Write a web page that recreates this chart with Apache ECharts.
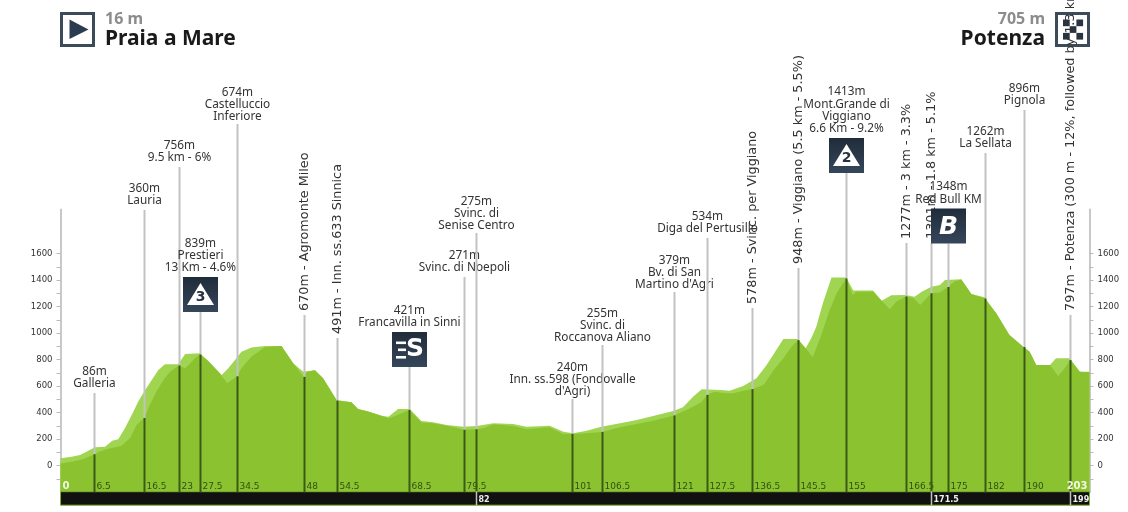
<!DOCTYPE html>
<html>
<head>
<meta charset="utf-8">
<style>html,body{margin:0;padding:0;background:#fff}#chart{width:1128px;height:512px}</style>
<script src="https://cdn.jsdelivr.net/npm/echarts@6/dist/echarts.min.js"></script>
</head>
<body>
<div id="chart"></div>
<script>
// Road surface as seen from the front edge: km and elevation in metres
const frontKm = [0,2.2,4.4,6.7,7.6,9.2,10.8,12,13.7,15,16.5,17.6,18.9,20.3,21.6,23.3,24.6,25.6,26.5,27.5,29.1,31.4,32.9,34.8,35.7,37.7,40.3,43.6,45.9,48,48.6,50.2,51.8,54.5,57.4,58.7,60.7,63.3,64.7,66,67.3,68.8,71.2,73.5,76.2,79.7,82,83.4,85.4,89.3,91.9,96.5,99.2,101,103.8,106.8,110.4,113.7,116.9,121,122.8,124.8,126.5,127.5,129,131,132.7,134.7,136.5,138.7,140.7,142.6,144.2,145.5,147,148.4,150,151.5,153.1,155,156.3,157,160.3,162,163.6,164.9,166.8,168.3,169.6,171.8,173.5,175,176.4,177.7,179.7,182.3,184.6,187.2,190,191.2,192.5,195.2,196.8,198.1,199.2,201.1,203];
const frontElev = [16,30,48,86,106,126,139,151,207,307,360,458,558,647,709,756,735,773,810,839,792,697,622,674,735,823,894,903,773,670,709,720,660,491,478,428,408,377,358,375,395,421,325,320,302,271,275,282,312,300,275,290,239,240,245,255,290,315,340,379,408,445,483,534,558,546,546,566,578,609,722,810,898,948,886,818,974,1150,1301,1413,1288,1313,1313,1245,1180,1238,1277,1263,1213,1301,1306,1348,1389,1405,1296,1262,1150,986,896,860,760,760,677,735,797,709,705];

// Raised back edge of the road ribbon
const backKm = [0,2.2,3.85,5.5,6.8,8.8,10.2,11.4,12.7,14.4,15.3,16.7,18,19.3,20.6,23.2,24.6,27.5,29.1,31.8,33.1,34.7,35.7,37.7,40.3,43.6,45.9,47.9,50.2,51.8,54.5,57.4,58.7,60.7,63.3,64.7,66.6,68.9,71.2,73.5,76.2,79.5,82.1,85.4,89.3,91.9,96.5,99.2,101.1,103.8,106.7,110.4,113.7,116.9,120.9,122.8,124.8,126.5,130.1,132,134.7,137.3,139.3,142.6,145.5,147,148.1,149.1,150.4,152.1,155,156.4,160.3,162,163.9,166.7,168.5,169.9,171.8,173.5,174.5,177.7,179.7,182.3,184.6,187.2,189.9,191.2,192.5,195.2,196.4,199.1,201.1,203];
const backElev = [56,68,81,113,139,143,189,199,282,408,483,571,647,722,765,765,843,848,792,685,735,810,860,891,903,903,773,709,720,660,496,478,428,408,377,370,428,428,337,327,307,294,300,320,315,294,302,257,245,264,294,320,345,375,413,441,521,577,571,566,601,660,760,956,956,886,961,1049,1226,1419,1419,1321,1321,1245,1286,1288,1275,1313,1351,1364,1402,1407,1296,1271,1150,986,898,860,760,760,810,810,709,709];

// Points of interest along the route: position, printed distance, elevation, caption
const markerKm = [6.7,16.5,23.3,27.5,34.8,48,54.6,68.8,79.7,82,101,106.8,121,127.6,136.5,145.5,155,166.8,171.8,175,182.3,190,199.2];
const markerKmText = ["6.5","16.5","23","27.5","34.5","48","54.5","68.5","79.5","82","101","106.5","121","127.5","136.5","145.5","155","166.5","171.5","175","182","190","199"];
const markerElev = [86,360,756,839,674,670,491,421,271,275,240,255,379,534,578,948,1413,1277,1301,1348,1262,896,797];
const markerText = [
  "86m\nGalleria","360m\nLauria","756m\n9.5 km - 6%","839m\nPrestieri\n13 Km - 4.6%",
  "674m\nCastelluccio\nInferiore","670m - Agromonte Mileo","491m - Inn. ss.633 Sinnica",
  "421m\nFrancavilla in Sinni","271m\nSvinc. di Noepoli","275m\nSvinc. di\nSenise Centro",
  "240m\nInn. ss.598 (Fondovalle\nd'Agri)","255m\nSvinc. di\nRoccanova Aliano",
  "379m\nBv. di San\nMartino d'Agri","534m\nDiga del Pertusillo","578m - Svinc. per Viggiano",
  "948m - Viggiano (5.5 km - 5.5%)","1413m\nMont.Grande di\nViggiano\n6.6 Km - 9.2%",
  "1277m - 3 km - 3.3%","1301m - 1.8 km - 5.1%","1348m\nRed Bull KM","1262m\nLa Sellata",
  "896m\nPignola","797m - Potenza (300 m - 12%, followed by 1.3 km - 5.6%)"
];
const sidewaysMarkers = ["48","54.5","136.5","145.5","166.5","171.5","199"];  // captions that read bottom to top
const beltMarkers = ["82","171.5","199"];                                     // distances printed inside the black belt
const climbBadges = {"27.5":"3","155":"2"};
const sprintMarker = "68.5";
const bonusMarker = "175";
const routeStartKm = 0;
const routeEndKm = 203;

// Page layout, separate from the data above
const poleTopPx = [393,210,167,312,124,315,338,367,277,233,399,345,292,238,308,268,173,243,243,243.5,153,110,315];
const badgeSize = 35;
const labelFont = '11.8px "Noto Sans"';
const sideFont = '12.8px "DejaVu Sans"';
const kmFont = '9px "DejaVu Sans"';
const axisTicks = [-100,0,100,200,300,400,500,600,700,800,900,1000,1100,1200,1300,1400,1500,1600];
const axisLabels = [0,200,400,600,800,1000,1200,1400,1600];

const GRID = {left:60.5,right:38.5,top:209.5,bottom:19.8};
const FRONT = '#8bc230', BACK = '#a0d552', POLE = '#c2c2c2', STEM = '#3b5a17', TXT = '#333';
const NAVY = {type:'linear',x:0,y:0,x2:0,y2:1,colorStops:[{offset:0,color:'#1f2c3a'},{offset:1,color:'#36465a'}]};
const HEAD_FONT = '"Noto Sans"';

function badge(cx, bottom, key) {
  const L = cx - badgeSize/2, T = bottom - badgeSize;
  const kids = [{type:'rect',shape:{x:L,y:T,width:badgeSize,height:badgeSize},style:{fill:NAVY}}];
  if (climbBadges[key]) {
    kids.push({type:'polygon',shape:{points:[[L+17.5,T+6],[L+31,T+28],[L+4,T+28]]},style:{fill:'#fff'}});
    kids.push({type:'text',x:L+17.5,y:T+20.5,style:{text:climbBadges[key],font:'bold 14px "DejaVu Sans"',fill:'#26323f',align:'center',verticalAlign:'middle'}});
  } else if (key === sprintMarker) {
    [9.5,16.5,24].forEach(function (dy, i) {
      kids.push({type:'rect',shape:{x:L+4+(i===1?2:0),y:T+dy,width:i===1?8:10,height:2.6},style:{fill:'#fff'}});
    });
    kids.push({type:'text',x:L+23,y:T+17.5,style:{text:'S',font:'bold 25px "DejaVu Sans"',fill:'#fff',align:'center',verticalAlign:'middle'}});
  } else if (key === bonusMarker) {
    kids.push({type:'text',x:L+17.5,y:T+18.5,style:{text:'B',font:'italic bold 25px "DejaVu Sans"',fill:'#fff',align:'center',verticalAlign:'middle'}});
  }
  return kids;
}

function renderMarker(params, api) {
  const i = params.dataIndex;
  const key = markerKmText[i];
  const top = api.coord([markerKm[i], markerElev[i]]);
  const base = api.coord([markerKm[i], -200]);
  const x = Math.round(top[0]) + 0.5;
  const poleTop = poleTopPx[i];
  const hasBadge = climbBadges[key] || key === sprintMarker || key === bonusMarker;
  const kids = [
    {type:'line',shape:{x1:x,y1:poleTop,x2:x,y2:top[1]},style:{stroke:POLE,lineWidth:2}},
    {type:'line',shape:{x1:x,y1:top[1],x2:x,y2:base[1]},style:{stroke:STEM,lineWidth:2}}
  ];
  if (hasBadge) kids.push.apply(kids, badge(x, poleTop, key));
  if (sidewaysMarkers.indexOf(key) >= 0) {
    kids.push({type:'text',x:x,y:poleTop-4,rotation:Math.PI/2,
      style:{text:markerText[i],font:sideFont,fill:TXT,align:'left',verticalAlign:'middle'}});
  } else {
    const lines = markerText[i].split('\n').length;
    const gap = hasBadge ? badgeSize + 3 : (lines === 3 ? 1 : 3);
    kids.push({type:'text',x:x,y:poleTop-gap,
      style:{text:markerText[i],font:labelFont,fill:TXT,align:'center',verticalAlign:'bottom',lineHeight:12.3}});
  }
  if (beltMarkers.indexOf(key) >= 0) {
    kids.push({type:'line',shape:{x1:x,y1:base[1]-1,x2:x,y2:base[1]+13},style:{stroke:POLE,lineWidth:1.5}});
    kids.push({type:'text',x:x+2,y:base[1]+7.5,style:{text:key,font:'bold 8px "DejaVu Sans"',fill:'#eee',align:'left',verticalAlign:'middle'}});
  } else {
    kids.push({type:'text',x:x+2,y:base[1]-5.5,style:{text:key,font:kmFont,fill:'#2f5212',align:'left',verticalAlign:'middle'}});
  }
  return {type:'group',children:kids};
}

// Black distance belt under the profile
function renderBelt(params, api) {
  const a = api.coord([routeStartKm, -200]);
  const b = api.coord([routeEndKm, -200]);
  return {type:'rect',shape:{x:a[0],y:a[1]-0.5,width:b[0]-a[0],height:13.5},style:{fill:'#111',stroke:'#7fb12e',lineWidth:1}};
}

// Start and finish distances, printed over the marker stems
function renderRouteEnds(params, api) {
  const a = api.coord([routeStartKm, -200]);
  const b = api.coord([routeEndKm, -200]);
  return {type:'group',children:[
    {type:'text',x:a[0]+2,y:a[1]-5.5,style:{text:String(routeStartKm),font:'bold 10px "DejaVu Sans"',fill:'#f2f7e0',align:'left',verticalAlign:'middle'}},
    {type:'text',x:b[0]-2,y:a[1]-5.5,style:{text:String(routeEndKm),font:'bold 10px "DejaVu Sans"',fill:'#f2f7e0',align:'right',verticalAlign:'middle'}}
  ]};
}

function elevationAxis(position) {
  return {
    type:'value',position:position,min:-200,max:1933,
    axisLine:{show:true,onZero:false,lineStyle:{color:'#c8c8c8',width:2}},
    axisTick:{show:true,length:4,customValues:axisTicks,lineStyle:{color:'#bbb',width:1}},
    axisLabel:{customValues:axisLabels,margin:8,color:TXT,fontFamily:'DejaVu Sans',fontSize:8.5,formatter:function (v) { return String(v); }},
    splitLine:{show:false}
  };
}

function zip(xs, ys) { return xs.map(function (x, i) { return [x, ys[i]]; }); }

// Finish flag: a 3 by 3 chequer inside the framed square
const flagCells = [[0,0],[2,0],[1,1],[0,2],[2,2]];

const chart = echarts.init(document.getElementById('chart'), null, {renderer:'canvas'});
chart.setOption({
  animation:false,
  backgroundColor:'#fff',
  grid:GRID,
  xAxis:{type:'value',min:routeStartKm,max:routeEndKm,show:false},
  yAxis:[elevationAxis('left'),elevationAxis('right')],
  series:[
    {type:'line',data:zip(backKm,backElev),symbol:'none',silent:true,lineStyle:{width:0},areaStyle:{color:BACK,opacity:1,origin:'start'}},
    {type:'line',data:zip(frontKm,frontElev),symbol:'none',silent:true,lineStyle:{width:0},areaStyle:{color:FRONT,opacity:1,origin:'start'}},
    {type:'custom',data:[[routeStartKm,0]],renderItem:renderBelt,silent:true,z:3},
    {type:'custom',data:zip(markerKm,markerElev),renderItem:renderMarker,silent:true,z:4},
    {type:'custom',data:[[routeStartKm,0]],renderItem:renderRouteEnds,silent:true,z:5}
  ],
  graphic:[
    {type:'rect',z:1,shape:{x:61.5,y:13.5,width:32,height:32},style:{fill:'#fff',stroke:'#3c4b5a',lineWidth:3}},
    {type:'polygon',z:1,shape:{points:[[69.5,19.5],[88.5,29.5],[69.5,39]]},style:{fill:'#2c3c50'}},
    {type:'text',z:1,x:105,y:19,style:{text:'16 m',font:'bold 16px '+HEAD_FONT,fill:'#8c8c8c',align:'left',verticalAlign:'middle'}},
    {type:'text',z:1,x:105,y:39,style:{text:'Praia a Mare',font:'bold 21px '+HEAD_FONT,fill:'#1a1a1a',align:'left',verticalAlign:'middle'}},
    {type:'rect',z:1,shape:{x:1056.5,y:13.5,width:32,height:32},style:{fill:'#fff',stroke:'#3c4b5a',lineWidth:3}}
  ].concat(flagCells.map(function (c) {
    return {type:'rect',z:2,shape:{x:1063+c[0]*6.7,y:19.5+c[1]*6.7,width:6.7,height:6.7},style:{fill:'#2a3440'}};
  })).concat([
    {type:'text',z:1,x:1045,y:19,style:{text:'705 m',font:'bold 16px '+HEAD_FONT,fill:'#8c8c8c',align:'right',verticalAlign:'middle'}},
    {type:'text',z:1,x:1045,y:39,style:{text:'Potenza',font:'bold 21px '+HEAD_FONT,fill:'#1a1a1a',align:'right',verticalAlign:'middle'}}
  ])
});
</script>
</body>
</html>
